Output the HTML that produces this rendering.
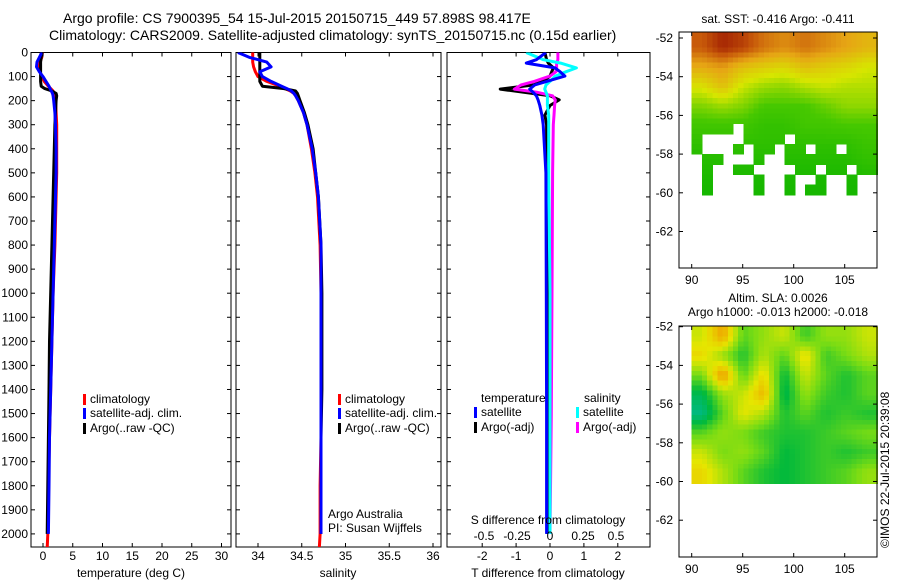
<!DOCTYPE html>
<html><head><meta charset="utf-8"><style>
html,body{margin:0;padding:0;background:#fff;width:900px;height:580px;overflow:hidden}
svg{display:block;font-family:"Liberation Sans",sans-serif}
text{font-size:12px;fill:#000}
</style></head><body>
<svg id="fig" width="900" height="580" viewBox="0 0 900 580">
<text x="63" y="23" style="font-size:14px">Argo profile: CS 7900395_54 15-Jul-2015 20150715_449 57.898S 98.417E</text>
<text x="49" y="40" style="font-size:14px">Climatology: CARS2009. Satellite-adjusted climatology: synTS_20150715.nc (0.15d earlier)</text>
<text x="778" y="23" text-anchor="middle">sat. SST: -0.416 Argo: -0.411</text>
<text x="778" y="302" text-anchor="middle">Altim. SLA: 0.0026</text>
<text x="778" y="316" text-anchor="middle">Argo h1000: -0.013 h2000: -0.018</text>
<text transform="translate(889,548) rotate(-90)">©IMOS 22-Jul-2015 20:39:08</text>
</svg>
<script>
// ---------- data ----------
const depths = [0,20,40,60,80,100,120,140,150,160,170,180,200,250,300,400,500,600,800,1000,1200,1400,1600,1800,2000];
const tempClim = [-0.1,-0.2,-0.5,-0.7,-0.5,-0.2,0.2,0.9,1.3,1.7,1.9,2.0,2.1,2.2,2.3,2.3,2.3,2.2,2.0,1.7,1.5,1.3,1.1,0.9,0.8];
const tempSat  = [-0.2,-0.6,-1.0,-1.1,-0.6,0.0,0.5,1.0,1.2,1.4,1.6,1.7,1.8,2.0,2.1,2.2,2.2,2.1,1.9,1.7,1.5,1.3,1.1,1.0,0.9];
const tempArgo = [-0.3,-0.3,-0.4,-0.4,-0.4,-0.4,-0.4,-0.3,0.3,1.5,2.2,2.3,2.2,2.1,2.0,1.9,1.8,1.7,1.5,1.3,1.1,1.0,0.9,0.8,0.7];
const salClim = [33.94,33.94,33.94,33.95,33.97,34.0,34.1,34.25,34.31,34.37,34.41,34.43,34.46,34.52,34.56,34.61,34.65,34.68,34.71,34.72,34.72,34.72,34.72,34.71,34.71];
const salSat  = [33.77,33.9,34.1,34.15,34.02,34.05,34.15,34.27,34.33,34.38,34.41,34.43,34.46,34.52,34.56,34.62,34.66,34.69,34.72,34.72,34.72,34.72,34.72,34.72,34.72];
const salArgo = [34.02,34.02,34.02,34.02,34.02,34.02,34.02,34.05,34.3,34.43,34.45,34.46,34.48,34.53,34.57,34.63,34.66,34.69,34.72,34.73,34.73,34.73,34.72,34.72,34.72];
const diffDepths = [0,30,44,64,80,98,120,135,152,165,180,197,220,260,300,500,1000,1500,2000];
const tDiffSat  = [-0.12,-0.4,-0.7,0.15,0.3,0.44,-0.1,-0.45,-0.6,-0.5,-0.4,-0.35,-0.3,-0.24,-0.2,-0.12,-0.11,-0.1,-0.1];
const tDiffArgo = [-0.15,-0.1,-0.05,0.1,0.05,0.0,-0.2,-0.5,-1.47,-0.8,0.0,0.27,0.0,-0.15,-0.1,-0.1,-0.08,-0.08,-0.08];
const sDiffSat  = [-0.18,-0.05,0.08,0.2,0.12,0.04,0.0,-0.03,-0.04,-0.03,-0.02,-0.02,-0.02,-0.01,-0.01,-0.01,0.0,0.0,0.0];
const sDiffArgo = [0.06,0.06,0.05,0.05,0.045,0.0,-0.12,-0.22,-0.27,-0.1,0.02,0.04,0.035,0.03,0.025,0.02,0.015,0.01,0.0];
const depthTicks = [0,100,200,300,400,500,600,700,800,900,1000,1100,1200,1300,1400,1500,1600,1700,1800,1900,2000];
const tempTicks = [0,5,10,15,20,25,30];
const salTicks = [34,34.5,35,35.5,36];
const salTickLabels = ["34","34.5","35","35.5","36"];
const tDiffTicks = [-2,-1,0,1,2];
const sDiffTicks = [-0.5,-0.25,0,0.25,0.5];
const sDiffTickLabels = ["-0.5","-0.25","0","0.25","0.5"];
const latTicks = [-52,-54,-56,-58,-60,-62];
const lonTicks = [90,95,100,105];
const sstGrid = [
[0.85,0.95,0.9,0.8,0.75,0.8,0.75,0.7,0.65],
[0.68,0.72,0.62,0.58,0.55,0.62,0.58,0.55,0.5],
[0.52,0.62,0.48,0.42,0.4,0.45,0.48,0.45,0.45],
[0.38,0.42,0.38,0.3,0.3,0.3,0.35,0.4,0.4],
[0.28,0.28,0.28,0.22,0.22,0.28,0.28,0.3,0.3],
[0.2,0.2,0.2,0.2,0.2,0.2,0.2,0.2,0.25],
[0.15,0.15,0.15,0.15,0.15,0.15,0.15,0.15,0.2],
[0.1,0.1,0.1,0.1,0.1,0.1,0.1,0.1,0.1]];
const sstMask = ["111111111111111111","111101111111111111","100001111011111111","100010110110110111","011000100111111111","010011000011011011","010000100100100100","010000100101100100"];
const slaGrid = [
[0.6,0.85,0.4,0.5,0.6,0.35,0.5,0.5,0.6],
[0.7,0.5,0.3,0.55,0.4,0.7,0.35,0.45,0.55],
[0.45,0.9,0.4,0.7,0.25,0.6,0.4,0.3,0.4],
[0.2,0.5,0.6,0.8,0.2,0.5,0.35,0.3,0.4],
[0.1,0.4,0.65,0.55,0.3,0.4,0.3,0.35,0.3],
[0.4,0.5,0.45,0.35,0.3,0.3,0.35,0.4,0.45],
[0.6,0.45,0.5,0.4,0.25,0.3,0.35,0.3,0.35],
[0.7,0.55,0.4,0.3,0.25,0.3,0.35,0.4,0.5]];

// ---------- helpers ----------
const NS="http://www.w3.org/2000/svg";
const svg=document.getElementById('fig');
function mk(tag,attrs,parent){const e=document.createElementNS(NS,tag);for(const k in attrs)e.setAttribute(k,attrs[k]);(parent||svg).appendChild(e);return e;}
const PT=52.5, PB=547, DS=0.2407;
const yD=d=>PT+d*DS;
const xT=t=>43+t*5.95;
const xS=s=>258+(s-34)*87.5;
const xTd=t=>550+t*33.9;
const xSd=s=>550+s*132;

function panel(name,x0,x1,ylabels){
  const g=mk('g',{});
  
  
  const r=mk('rect',{x:x0,y:PT,width:x1-x0,height:PB-PT,fill:'none',stroke:'#000','stroke-width':1},g);
  
  
  depthTicks.forEach(d=>{
    const y=yD(d);
    mk('line',{x1:x0,x2:x0+4,y1:y,y2:y,stroke:'#000'},g);
    mk('line',{x1:x1-4,x2:x1,y1:y,y2:y,stroke:'#000'},g);
    if(ylabels){const t=mk('text',{x:28,y:y+4,'text-anchor':'end'},g);t.textContent=d;
      
      }
  });
  return g;
}
function xticks(g,vals,labels,fx,x0,x1,ly,top){
  vals.forEach((v,i)=>{const x=fx(v);
    mk('line',{x1:x,x2:x,y1:PB-4,y2:PB,stroke:'#000'},g);
    if(top) mk('line',{x1:x,x2:x,y1:PT,y2:PT+4,stroke:'#000'},g);
    const t=mk('text',{x:x,y:ly,'text-anchor':'middle'},g);t.textContent=labels[i];
    
    });
}
function line(g,name,xs,ds,fx,col){
  let p='';xs.forEach((v,i)=>{p+=(p?'L':'M')+fx(v).toFixed(1)+','+yD(ds[i]).toFixed(1);});
  const e=mk('path',{d:p,fill:'none',stroke:col,'stroke-width':3,'stroke-linejoin':'round'},g);
  
  
}
function label(g,name,x,y,txt,anchor){const t=mk('text',{x:x,y:y,'text-anchor':anchor||'start'},g);t.textContent=txt;
  
  return t;}
function legend(g,name,x,y,col,txt){
  const r=mk('rect',{x:x,y:y-9,width:3,height:11,fill:col},g);
  
  
  label(g,name,x+7,y,txt);
}

// ---------- panel 1 temperature ----------
const g1=panel('temperature-panel',31,231,true);
const clip1=mk('clipPath',{id:'c1'});mk('rect',{x:31,y:PT,width:200,height:PB-PT},clip1);
const g1c=mk('g',{'clip-path':'url(#c1)'},g1);
line(g1c,'temp-climatology-line',tempClim.concat([0.7]),depths.concat([2060]),xT,'#f00');
line(g1c,'temp-argo-line',tempArgo,depths,xT,'#000');
line(g1c,'temp-satellite-line',tempSat,depths,xT,'#00f');
xticks(g1,tempTicks,tempTicks.map(String),xT,31,231,560,true);
label(g1,'x-axis-title-temperature',131,577,'temperature (deg C)','middle');
legend(g1,'legend-climatology',83,403,'#f00','climatology');
legend(g1,'legend-satellite-adj',83,417,'#00f','satellite-adj. clim.');
legend(g1,'legend-argo',83,432,'#000','Argo(..raw -QC)');

// ---------- panel 2 salinity ----------
const g2=panel('salinity-panel',236,441,false);
const clip2=mk('clipPath',{id:'c2'});mk('rect',{x:236,y:PT,width:205,height:PB-PT},clip2);
const g2c=mk('g',{'clip-path':'url(#c2)'},g2);
line(g2c,'sal-climatology-line',salClim.concat([34.7]),depths.concat([2060]),xS,'#f00');
line(g2c,'sal-argo-line',salArgo,depths,xS,'#000');
line(g2c,'sal-satellite-line',salSat,depths,xS,'#00f');
xticks(g2,salTicks,salTickLabels,xS,236,441,560,true);
label(g2,'x-axis-title-salinity',338,577,'salinity','middle');
legend(g2,'legend-climatology',338,403,'#f00','climatology');
legend(g2,'legend-satellite-adj',338,417,'#00f','satellite-adj. clim.');
legend(g2,'legend-argo',338,432,'#000','Argo(..raw -QC)');
label(g2,'argo-australia-label',328,518,'Argo Australia');
label(g2,'pi-label',328,532,'PI: Susan Wijffels');

// ---------- panel 3 differences ----------
const g3=panel('difference-panel',447,650,false);
const clip3=mk('clipPath',{id:'c3'});mk('rect',{x:447,y:PT,width:203,height:PB-PT},clip3);
const g3c=mk('g',{'clip-path':'url(#c3)'},g3);
line(g3c,'t-diff-argo-line',tDiffArgo,diffDepths,xTd,'#000');
line(g3c,'s-diff-argo-line',sDiffArgo,diffDepths,xSd,'#f0f');
line(g3c,'s-diff-satellite-line',sDiffSat,diffDepths,xSd,'#0ff');
line(g3c,'t-diff-satellite-line',tDiffSat,diffDepths,xTd,'#00f');
xticks(g3,tDiffTicks,tDiffTicks.map(String),xTd,447,650,560,true);
sDiffTicks.forEach((v,i)=>{const t=mk('text',{x:xSd(v),y:540,'text-anchor':'middle'},g3);t.textContent=sDiffTickLabels[i];
  
  });
label(g3,'s-diff-axis-title',548,524,'S difference from climatology','middle');
label(g3,'t-diff-axis-title',548,577,'T difference from climatology','middle');
label(g3,'legend-temperature-header',481,402,'temperature');
legend(g3,'legend-t-satellite',474,416,'#00f','satellite');
legend(g3,'legend-t-argo',474,431,'#000','Argo(-adj)');
label(g3,'legend-salinity-header',584,402,'salinity');
legend(g3,'legend-s-satellite',576,416,'#0ff','satellite');
legend(g3,'legend-s-argo',576,431,'#f0f','Argo(-adj)');

// ---------- maps ----------
function lerpCol(stops,v){v=Math.max(0,Math.min(1,v));for(let i=1;i<stops.length;i++){if(v<=stops[i][0]){const a=stops[i-1],b=stops[i],f=(v-a[0])/(b[0]-a[0]);return 'rgb('+[1,2,3].map(k=>Math.round(a[k]+(b[k]-a[k])*f)).join(',')+')';}}const l=stops[stops.length-1];return 'rgb('+l[1]+','+l[2]+','+l[3]+')';}
const sstStops=[[0,0,175,0],[0.3,70,200,0],[0.5,215,230,0],[0.7,230,165,20],[0.85,200,90,10],[1,150,15,0]];
const slaStops=[[0,0,185,175],[0.25,0,185,60],[0.45,120,220,20],[0.65,230,230,0],[0.9,240,150,0],[1,220,110,0]];
function sample(grid,fx,fy){const R=grid.length,C=grid[0].length;let x=fx*C-0.5,y=fy*R-0.5;x=Math.max(0,Math.min(C-1,x));y=Math.max(0,Math.min(R-1,y));
  const x0=Math.floor(x),y0=Math.floor(y),x1=Math.min(C-1,x0+1),y1=Math.min(R-1,y0+1),ax=x-x0,ay=y-y0;
  return grid[y0][x0]*(1-ax)*(1-ay)+grid[y0][x1]*ax*(1-ay)+grid[y1][x0]*(1-ax)*ay+grid[y1][x1]*ax*ay;}
function mapPanel(name,top,latY0,grid,stops,mask){
  const g=mk('g',{});
  
  
  const xL=lon=>691.7+(lon-90)*10.2;
  const yL=lat=>latY0+(-52-lat)*19.35;
  const bottom=top===32?268:557;
  const cells=mk('g',{'shape-rendering':'crispEdges'},g);
  
  
  const NC=36,NR=32,lon0=90,lon1=108.2,latA=(top===32?-51.7:-52),latB=-60.1;
  for(let r=0;r<NR;r++)for(let c=0;c<NC;c++){
    const latT=latA+(latB-latA)*r/NR, latBt=latA+(latB-latA)*(r+1)/NR;
    const lonL=lon0+(lon1-lon0)*c/NC, lonR=lon0+(lon1-lon0)*(c+1)/NC;
    const lc=(lonL+lonR)/2, la=(latT+latBt)/2;
    if(mask&&la<-56){const mr=Math.min(7,Math.floor((-56-la)/0.5)),mc=Math.min(17,Math.floor(lc-90));if(mask[mr][mc]==='0')continue;}
    const v=sample(grid,(lc-90)/18.2,(-52-la)/8);
    mk('rect',{x:xL(lonL).toFixed(1),y:yL(latT).toFixed(1),width:(xL(lonR)-xL(lonL)+0.6).toFixed(1),height:(yL(latBt)-yL(latT)+0.6).toFixed(1),fill:lerpCol(stops,v)},cells);
  }
  const fr=mk('rect',{x:679,y:top,width:198,height:bottom-top,fill:'none',stroke:'#000'},g);
  
  
  latTicks.forEach(l=>{const y=yL(l);mk('line',{x1:679,x2:683,y1:y,y2:y,stroke:'#000'},g);mk('line',{x1:873,x2:877,y1:y,y2:y,stroke:'#000'},g);
    const t=mk('text',{x:673,y:y+4,'text-anchor':'end'},g);t.textContent=l;
    
    });
  lonTicks.forEach(l=>{const x=xL(l);mk('line',{x1:x,x2:x,y1:bottom-4,y2:bottom,stroke:'#000'},g);mk('line',{x1:x,x2:x,y1:top,y2:top+4,stroke:'#000'},g);
    const t=mk('text',{x:x,y:bottom+16,'text-anchor':'middle'},g);t.textContent=l;
    
    });
}
mapPanel('sst-map',32,38,sstGrid,sstStops,sstMask);
mapPanel('sla-map',326,326.7,slaGrid,slaStops,null);
</script>
</body></html>
